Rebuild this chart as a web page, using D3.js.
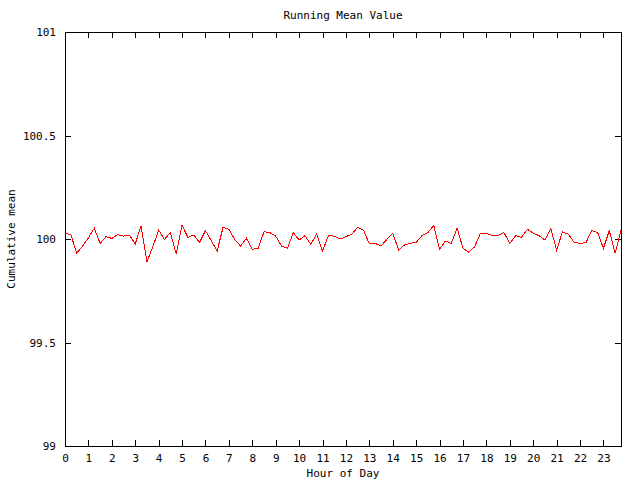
<!DOCTYPE html>
<html>
<head>
<meta charset="utf-8">
<script src="https://cdn.jsdelivr.net/npm/d3@7"></script>
<style>
  html, body { margin: 0; padding: 0; background: #fff; }
  svg text { font-family: "DejaVu Sans Mono", "Liberation Mono", monospace; font-size: 11px; fill: #000; }
</style>
</head>
<body>
<svg id="chart" width="640" height="480"></svg>
<script>
// Sample times (hour of day, 15-minute steps)
const hours = [
  0,0.25,0.5,0.75,1,1.25,1.5,1.75,2,2.25,2.5,2.75,3,3.25,3.5,3.75,
  4,4.25,4.5,4.75,5,5.25,5.5,5.75,6,6.25,6.5,6.75,7,7.25,7.5,7.75,
  8,8.25,8.5,8.75,9,9.25,9.5,9.75,10,10.25,10.5,10.75,11,11.25,11.5,11.75,
  12,12.25,12.5,12.75,13,13.25,13.5,13.75,14,14.25,14.5,14.75,15,15.25,15.5,15.75,
  16,16.25,16.5,16.75,17,17.25,17.5,17.75,18,18.25,18.5,18.75,19,19.25,19.5,19.75,
  20,20.25,20.5,20.75,21,21.25,21.5,21.75,22,22.25,22.5,22.75,23,23.25,23.5,23.75
];
// Cumulative mean values
const meanValues = [
  100.028,100.021,99.931,99.966,100.005,100.052,99.979,100.011,100.003,100.021,100.014,100.019,
  99.976,100.063,99.890,99.962,100.043,99.998,100.031,99.928,100.066,100.008,100.019,99.984,
  100.040,99.992,99.942,100.056,100.047,99.998,99.966,100.003,99.950,99.955,100.035,100.031,
  100.014,99.966,99.955,100.031,99.995,100.016,99.974,100.023,99.942,100.016,100.014,100.000,
  100.011,100.023,100.056,100.043,99.976,99.979,99.966,99.998,100.028,99.947,99.971,99.979,
  99.984,100.016,100.031,100.066,99.950,99.990,99.979,100.052,99.955,99.936,99.963,100.028,
  100.028,100.016,100.016,100.031,99.979,100.016,100.008,100.047,100.028,100.016,99.995,100.052,
  99.947,100.034,100.023,99.984,99.979,99.982,100.040,100.032,99.955,100.040,99.931,100.043
];
const xTicks = [0,1,2,3,4,5,6,7,8,9,10,11,12,13,14,15,16,17,18,19,20,21,22,23];
const yTicks = [99, 99.5, 100, 100.5, 101];
const titleText = "Running Mean Value";
const xLabel = "Hour of Day";
const yLabel = "Cumulative mean";

const svg = d3.select("#chart");
const L = 65, R = 621, T = 32, B = 446;

const x = d3.scaleLinear().domain([0, 23.75]).range([L, R]);
const y = d3.scaleLinear().domain([99, 101]).range([B, T]);

// axes (inward ticks, mirrored)
const gB = svg.append("g").attr("transform", `translate(0,${B})`)
  .call(d3.axisBottom(x).tickValues(xTicks).tickFormat(d3.format("d")).tickSizeInner(-6).tickSizeOuter(0).tickPadding(8));
const gT = svg.append("g").attr("transform", `translate(0,${T})`)
  .call(d3.axisTop(x).tickValues(xTicks).tickFormat("").tickSizeInner(-6).tickSizeOuter(0));
const gL = svg.append("g").attr("transform", `translate(${L},0)`)
  .call(d3.axisLeft(y).tickValues(yTicks).tickFormat(d => String(d)).tickSizeInner(-6).tickSizeOuter(0).tickPadding(9));
const gR = svg.append("g").attr("transform", `translate(${R},0)`)
  .call(d3.axisRight(y).tickValues(yTicks).tickFormat("").tickSizeInner(-6).tickSizeOuter(0));

[gB, gT, gL, gR].forEach(g => {
  g.select(".domain").remove();
  g.attr("font-family", null).attr("font-size", null);
  g.selectAll("line").attr("stroke", "#000").attr("shape-rendering", "crispEdges");
});

// frame
svg.append("rect")
  .attr("x", L + 0.5).attr("y", T + 0.5)
  .attr("width", R - L).attr("height", B - T)
  .attr("fill", "none").attr("stroke", "#000").attr("stroke-width", 1)
  .attr("shape-rendering", "crispEdges");

// line
const data = hours.map((h, i) => [h, meanValues[i]]);
svg.append("path")
  .datum(data)
  .attr("fill", "none")
  .attr("stroke", "#ff0000")
  .attr("stroke-width", 1)
  .attr("shape-rendering", "crispEdges")
  .attr("d", d3.line().x(d => x(d[0])).y(d => y(d[1])));

// titles
svg.append("text").attr("x", 343).attr("y", 19).attr("text-anchor", "middle").text(titleText);
svg.append("text").attr("x", 343).attr("y", 477).attr("text-anchor", "middle").text(xLabel);
svg.append("text").attr("transform", "translate(15,239) rotate(-90)").attr("text-anchor", "middle").text(yLabel);
</script>
</body>
</html>
